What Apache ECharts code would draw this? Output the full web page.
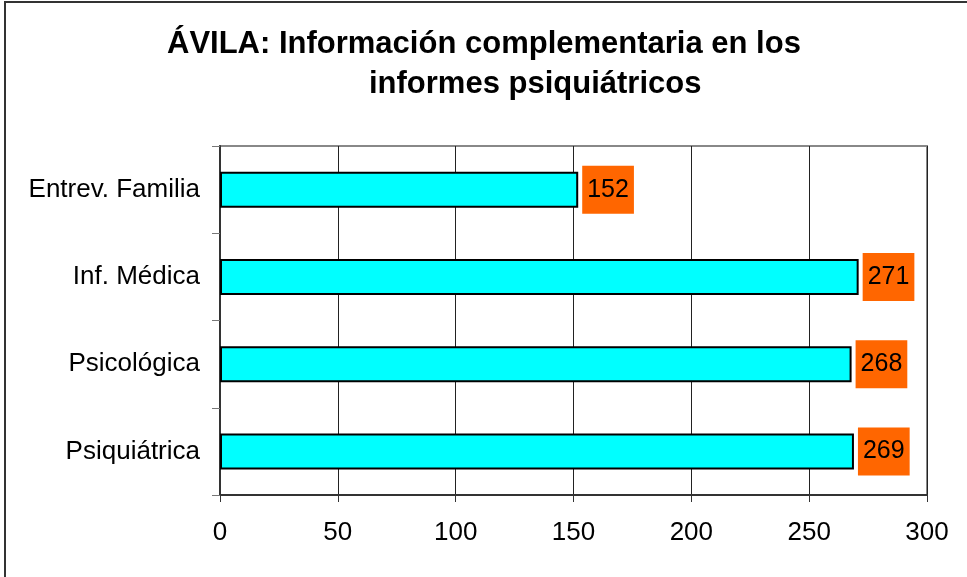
<!DOCTYPE html>
<html>
<head>
<meta charset="utf-8">
<script src="https://cdn.jsdelivr.net/npm/echarts@6/dist/echarts.min.js"></script>
<style>
  html, body { margin: 0; padding: 0; background: #fff; }
  #chart { width: 967px; height: 577px; }
</style>
</head>
<body>
<div id="chart"></div>
<script>
// Categories listed bottom to top (category axis on y starts at the bottom)
const categories = ['Psiquiátrica', 'Psicológica', 'Inf. Médica', 'Entrev. Familia'];
const values = [269, 268, 271, 152];
const xTicks = [0, 50, 100, 150, 200, 250, 300];

const titleLine1 = 'ÁVILA: Información complementaria en los';
const titleLine2 = 'informes psiquiátricos';

const FONT = '"Liberation Sans", Arial, sans-serif';

const chart = echarts.init(document.getElementById('chart'), null, { renderer: 'canvas' });

chart.setOption({
  backgroundColor: '#ffffff',
  animation: false,
  title: [
    {
      text: titleLine1,
      left: 162,
      top: 24,
      textStyle: { fontFamily: FONT, fontWeight: 'bold', fontSize: 31, color: '#000' }
    },
    {
      text: titleLine2,
      left: 364,
      top: 64,
      textStyle: { fontFamily: FONT, fontWeight: 'bold', fontSize: 31, color: '#000' }
    }
  ],
  graphic: [
    {
      // outer frame (left and top edges visible)
      type: 'rect',
      shape: { x: 5, y: 2, width: 1200, height: 1200 },
      style: { fill: 'none', stroke: '#333', lineWidth: 2 },
      silent: true,
      z: 100
    }
  ],
  grid: {
    left: 220,
    right: 40,
    top: 146,
    bottom: 82,
    show: true,
    borderColor: '#888',
    borderWidth: 2,
    backgroundColor: '#fff'
  },
  xAxis: {
    type: 'value',
    min: xTicks[0],
    max: xTicks[xTicks.length - 1],
    interval: xTicks[1] - xTicks[0],
    axisLine: { show: true, onZero: false, lineStyle: { color: '#333', width: 2 } },
    axisTick: { show: true, length: 7, lineStyle: { color: '#333', width: 1 } },
    axisLabel: {
      margin: 25,
      fontFamily: FONT,
      fontSize: 26,
      color: '#000'
    },
    splitLine: { show: true, lineStyle: { color: '#222', width: 1 } }
  },
  yAxis: {
    type: 'category',
    data: categories,
    axisLine: { show: true, lineStyle: { color: '#333', width: 2 } },
    axisTick: { show: true, length: 8, alignWithLabel: false, lineStyle: { color: '#777', width: 1 } },
    axisLabel: {
      margin: 20,
      fontFamily: FONT,
      fontSize: 26,
      color: '#000'
    },
    splitLine: { show: false }
  },
  series: [
    {
      type: 'bar',
      data: values,
      barWidth: 36,
      itemStyle: { color: '#00FFFF', borderColor: '#000', borderWidth: 2 },
      label: {
        show: true,
        position: 'right',
        distance: 4,
        fontFamily: FONT,
        fontSize: 25,
        color: '#000',
        backgroundColor: '#FF6600',
        padding: [13, 5, 10, 5],
        lineHeight: 25
      }
    }
  ]
});
</script>
</body>
</html>
